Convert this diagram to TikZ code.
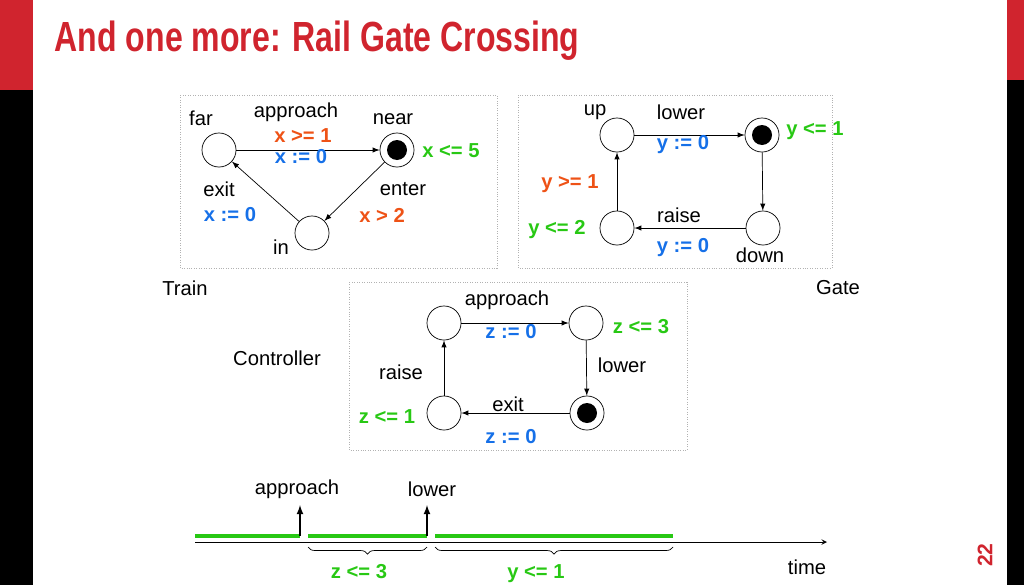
\documentclass[tikz,border=0pt]{standalone}
\usepackage{fontspec}
\setmainfont{Liberation Sans}
\usetikzlibrary{positioning,decorations.pathreplacing}
\definecolor{slidered}{RGB}{208,36,46}
\definecolor{guardc}{RGB}{238,82,22}
\definecolor{resetc}{RGB}{22,112,232}
\definecolor{invc}{RGB}{40,200,20}

\tikzset{
  loc/.style={circle, draw, minimum size=34pt*0.57, inner sep=0pt},
  cur/.style={loc, path picture={\fill (path picture bounding box.center) circle (0.2cm);}},
  txt/.style={font=\fontsize{11.5}{13}\selectfont},
  guard/.style={txt, text=guardc, font=\fontsize{11.5}{13}\selectfont\bfseries},
  reset/.style={txt, text=resetc, font=\fontsize{11.5}{13}\selectfont\bfseries},
  inv/.style={txt, text=invc, font=\fontsize{11.5}{13}\selectfont\bfseries},
  trans/.style={->, >=latex},
  frame/.style={draw=gray!60, densely dotted},
}

\begin{document}
\begin{tikzpicture}[x=0.02cm, y=-0.02cm]
    \useasboundingbox (0,0) rectangle (1024,585);

    % side bars
    \fill[black] (0,0) rectangle (33,585);
    \fill[slidered] (0,0) rectangle (33,90);
    \fill[black] (1007,0) rectangle (1024,585);
    \fill[slidered] (1007,0) rectangle (1024,80);

    % title
    \node[anchor=west, text=slidered, xscale=0.76, font=\fontsize{24}{28}\selectfont\bfseries] (title) at (50,41) {And one more: Rail Gate Crossing};

    % frames
    \draw[frame] (180,95) rectangle (497,268);
    \draw[frame] (518,95) rectangle (832,268);
    \draw[frame] (349,282) rectangle (687,450);

    % Train
    \node[loc] (far) at (219,150) {};
    \node[cur] (near) at (397,150) {};
    \node[loc] (in) at (312,233) {};
    \draw[trans] (far) -- (near);
    \draw[trans] (near) -- (in);
    \draw[trans] (in) -- (far);
    \node[txt] at (201,118) {far};
    \node[txt] at (296,112) {approach};
    \node[txt] at (393,119) {near};
    \node[guard] at (303,136) {x >= 1};
    \node[reset] at (301,157) {x := 0};
    \node[inv] at (451,151) {x <= 5};
    \node[txt] at (219,189) {exit};
    \node[reset] at (230,215) {x := 0};
    \node[txt] at (403,189) {enter};
    \node[guard] at (382,215) {x > 2};
    \node[txt] at (281,247) {in};
    \node[txt] at (185,288) {Train};

    % Gate
    \node[loc] (up) at (617,135) {};
    \node[cur] (closing) at (762,135) {};
    \node[loc] (down) at (763,228) {};
    \node[loc] (opening) at (617,228) {};
    \draw[trans] (up) -- (closing);
    \draw[trans] (closing) -- (down);
    \draw[trans] (down) -- (opening);
    \draw[trans] (opening) -- (up);
    \node[txt] at (595,112) {up};
    \node[txt] at (681,112) {lower};
    \node[reset] at (683,145) {y := 0};
    \node[inv] at (815,131) {y <= 1};
    \node[guard] at (570,184) {y >= 1};
    \node[txt] at (679,215) {raise};
    \node[inv] at (557,230) {y <= 2};
    \node[reset] at (683,248) {y := 0};
    \node[txt] at (760,255) {down};
    \node[txt] at (838,288) {Gate};

    % Controller
    \node[loc] (c1) at (444,323) {};
    \node[loc] (c2) at (586,323) {};
    \node[cur] (c3) at (587,413) {};
    \node[loc] (c4) at (444,413) {};
    \draw[trans] (c1) -- (c2);
    \draw[trans] (c2) -- (c3);
    \draw[trans] (c3) -- (c4);
    \draw[trans] (c4) -- (c1);
    \node[txt] at (507,300) {approach};
    \node[reset] at (511,332) {z := 0};
    \node[inv] at (641,327) {z <= 3};
    \node[txt] at (622,365) {lower};
    \node[txt] at (508,404) {exit};
    \node[reset] at (511,437) {z := 0};
    \node[txt] at (401,372) {raise};
    \node[inv] at (387,417) {z <= 1};
    \node[txt] at (277,358) {Controller};

    % timeline
    \coordinate (t0) at (195,542);
    \coordinate (t1) at (827,542);
    \draw[->, >=stealth] (t0) -- (t1);
    \draw[invc, line width=2.5pt] (195,536) -- (300,536);
    \draw[invc, line width=2.5pt] (308,536) -- (427,536);
    \draw[invc, line width=2.5pt] (435,536) -- (673,536);
    \coordinate (e1) at (300,536);
    \coordinate (e2) at (427,536);
    \draw[->, >=latex, thick] (e1) -- ++(0,-31);
    \draw[->, >=latex, thick] (e2) -- ++(0,-31);
    \node[txt] at (297,489) {approach};
    \node[txt] at (432,489) {lower};
    \draw[decorate, decoration={brace, amplitude=4pt, mirror}] (308,547) -- (427,547);
    \draw[decorate, decoration={brace, amplitude=4pt, mirror}] (435,547) -- (673,547);
    \node[inv] at (359,572) {z <= 3};
    \node[inv] at (536,574) {y <= 1};
    \node[txt] at (807,567) {time};
    \node[rotate=90, text=slidered, font=\fontsize{12}{14}\selectfont\bfseries] at (985,555) {22};
\end{tikzpicture}
\end{document}
